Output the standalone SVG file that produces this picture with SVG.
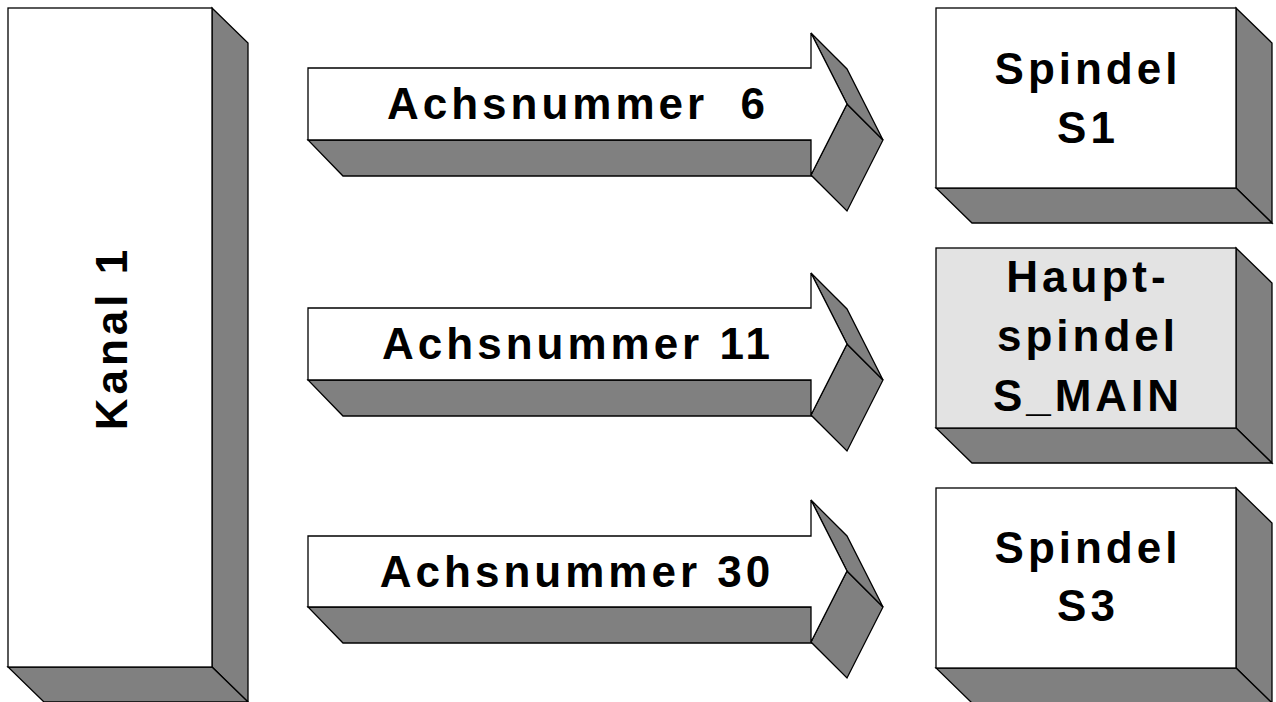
<svg xmlns="http://www.w3.org/2000/svg" width="1276" height="702" viewBox="0 0 1276 702">
<style>
.face{fill:#ffffff;stroke:#000;stroke-width:1.3;stroke-linejoin:miter}
.hl{fill:#e3e3e3;stroke:#000;stroke-width:1.3}
.side{fill:#808080;stroke:#000;stroke-width:1.3;stroke-linejoin:miter}
.t{font-family:"Liberation Sans",Arial,sans-serif;font-weight:bold;font-size:44px;letter-spacing:4px;fill:#000;text-anchor:middle}
</style>
<rect width="1276" height="702" fill="#fff"/>
<g id="kanal1">
  <polygon class="side" points="212,8 248,43 248,702 212,667"/>
  <polygon class="side" points="8,667 212,667 248,702 44,702"/>
  <rect class="face" x="8" y="8" width="204" height="659"/>
  <text class="t" transform="translate(127,340) rotate(-90)" x="2">Kanal 1</text>
</g>
<g id="connectors">
  <g id="arrow1">
    <polygon class="side" points="308,140 811,140 847,176 343,176"/>
    <polygon class="side" points="847,104 811,175 847,211 883,140"/>
    <polygon class="side" points="811,33 847,104 883,140 847,69"/>
    <polygon class="face" points="308,68 811,68 811,33 847,104 811,175 811,140 308,140"/>
    <text class="t" x="578" y="119" xml:space="preserve">Achsnummer  6</text>
  </g>
  <g id="arrow2">
    <polygon class="side" points="308,380 811,380 847,416 343,416"/>
    <polygon class="side" points="847,344 811,415 847,451 883,380"/>
    <polygon class="side" points="811,273 847,344 883,380 847,309"/>
    <polygon class="face" points="308,308 811,308 811,273 847,344 811,415 811,380 308,380"/>
    <text class="t" x="578" y="359">Achsnummer 11</text>
  </g>
  <g id="arrow3">
    <polygon class="side" points="308,607 811,607 847,643 343,643"/>
    <polygon class="side" points="847,571 811,642 847,678 883,607"/>
    <polygon class="side" points="811,500 847,571 883,607 847,536"/>
    <polygon class="face" points="308,536 811,536 811,500 847,571 811,642 811,607 308,607"/>
    <text class="t" x="577" y="587">Achsnummer 30</text>
  </g>
</g>
<g id="spindel-s1">
  <polygon class="side" points="1236,8 1272,43 1272,223 1236,188"/>
  <polygon class="side" points="936,188 1236,188 1272,223 972,223"/>
  <rect class="face" x="936" y="8" width="300" height="180"/>
  <text class="t" x="1088" y="84">Spindel</text>
  <text class="t" x="1088" y="143">S1</text>
</g>
<g id="hauptspindel">
  <polygon class="side" points="1236,248 1272,283 1272,463 1236,428"/>
  <polygon class="side" points="936,428 1236,428 1272,463 972,463"/>
  <rect class="hl" x="936" y="248" width="300" height="180"/>
  <text class="t" x="1088" y="292">Haupt-</text>
  <text class="t" x="1088" y="351">spindel</text>
  <text class="t" x="1088" y="411">S_MAIN</text>
</g>
<g id="spindel-s3">
  <polygon class="side" points="1236,488 1272,523 1272,703 1236,668"/>
  <polygon class="side" points="936,668 1236,668 1272,703 972,703"/>
  <rect class="face" x="936" y="488" width="300" height="180"/>
  <text class="t" x="1088" y="563">Spindel</text>
  <text class="t" x="1088" y="621">S3</text>
</g>
</svg>
